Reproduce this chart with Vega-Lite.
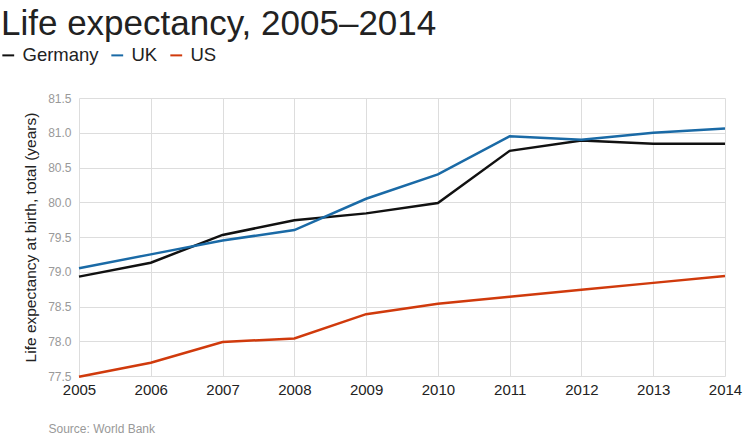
{
  "$schema": "https://vega.github.io/schema/vega-lite/v6.json",
  "autosize": {"type": "none"},
  "width": 646,
  "height": 278,
  "padding": {"left": 79, "top": 98, "right": 29, "bottom": 63},
  "background": "white",
  "title": {
    "text": "Life expectancy, 2005–2014",
    "anchor": "start",
    "frame": "group",
    "dx": -78,
    "offset": 4,
    "fontSize": 35,
    "font": "Liberation Sans",
    "fontWeight": "normal",
    "color": "#222222"
  },
  "config": {
    "view": {"stroke": null},
    "font": "Liberation Sans"
  },
  "data": {
    "values": [
      {"year": 2005, "country": "Germany", "value": 78.93},
      {"year": 2006, "country": "Germany", "value": 79.13},
      {"year": 2007, "country": "Germany", "value": 79.53},
      {"year": 2008, "country": "Germany", "value": 79.74},
      {"year": 2009, "country": "Germany", "value": 79.84},
      {"year": 2010, "country": "Germany", "value": 79.99},
      {"year": 2011, "country": "Germany", "value": 80.74},
      {"year": 2012, "country": "Germany", "value": 80.89},
      {"year": 2013, "country": "Germany", "value": 80.84},
      {"year": 2014, "country": "Germany", "value": 80.84},
      {"year": 2005, "country": "UK", "value": 79.05},
      {"year": 2006, "country": "UK", "value": 79.25},
      {"year": 2007, "country": "UK", "value": 79.45},
      {"year": 2008, "country": "UK", "value": 79.60},
      {"year": 2009, "country": "UK", "value": 80.05},
      {"year": 2010, "country": "UK", "value": 80.40},
      {"year": 2011, "country": "UK", "value": 80.95},
      {"year": 2012, "country": "UK", "value": 80.90},
      {"year": 2013, "country": "UK", "value": 81.00},
      {"year": 2014, "country": "UK", "value": 81.06},
      {"year": 2005, "country": "US", "value": 77.49},
      {"year": 2006, "country": "US", "value": 77.69},
      {"year": 2007, "country": "US", "value": 77.99},
      {"year": 2008, "country": "US", "value": 78.04},
      {"year": 2009, "country": "US", "value": 78.39},
      {"year": 2010, "country": "US", "value": 78.54},
      {"year": 2011, "country": "US", "value": 78.64},
      {"year": 2012, "country": "US", "value": 78.74},
      {"year": 2013, "country": "US", "value": 78.84},
      {"year": 2014, "country": "US", "value": 78.94}
    ]
  },
  "mark": {"type": "line", "strokeWidth": 2.5, "clip": false},
  "encoding": {
    "x": {
      "field": "year",
      "type": "quantitative",
      "scale": {"domain": [2005, 2014], "nice": false, "zero": false},
      "axis": {
        "values": [2005, 2006, 2007, 2008, 2009, 2010, 2011, 2012, 2013, 2014],
        "format": "d",
        "title": "Source: World Bank",
        "titleFontSize": 12,
        "titleFontWeight": "normal",
        "titleColor": "#999999",
        "titleAnchor": "start",
        "titleAlign": "left",
        "titleX": -31,
        "titleY": 56,
        "titleBaseline": "alphabetic",
        "labelFontSize": 15,
        "labelColor": "#222222",
        "labelPadding": 6,
        "ticks": false,
        "domain": false,
        "grid": true,
        "gridColor": "#dddddd",
        "gridWidth": 1,
        "labelFlush": false,
        "labelOverlap": false
      }
    },
    "y": {
      "field": "value",
      "type": "quantitative",
      "scale": {"domain": [77.5, 81.5], "nice": false, "zero": false},
      "axis": {
        "values": [77.5, 78.0, 78.5, 79.0, 79.5, 80.0, 80.5, 81.0, 81.5],
        "format": ".1f",
        "title": "Life expectancy at birth, total (years)",
        "titleFontSize": 15.5,
        "titleFontWeight": "normal",
        "titleColor": "#222222",
        "titlePadding": 9,
        "labelFontSize": 12,
        "labelColor": "#999999",
        "labelPadding": 8,
        "ticks": false,
        "domain": false,
        "grid": true,
        "gridColor": "#dddddd",
        "gridWidth": 1
      }
    },
    "color": {
      "field": "country",
      "type": "nominal",
      "scale": {"domain": ["Germany", "UK", "US"], "range": ["#111111", "#1a6aa6", "#d03a0c"]},
      "legend": {
        "title": null,
        "orient": "none",
        "direction": "horizontal",
        "legendX": -80,
        "legendY": -52,
        "symbolType": "stroke",
        "symbolSize": 140,
        "symbolStrokeWidth": 2,
        "labelFontSize": 18.5,
        "labelColor": "#222222",
        "labelOffset": 5,
        "columnPadding": 8,
        "padding": 0
      }
    }
  }
}
